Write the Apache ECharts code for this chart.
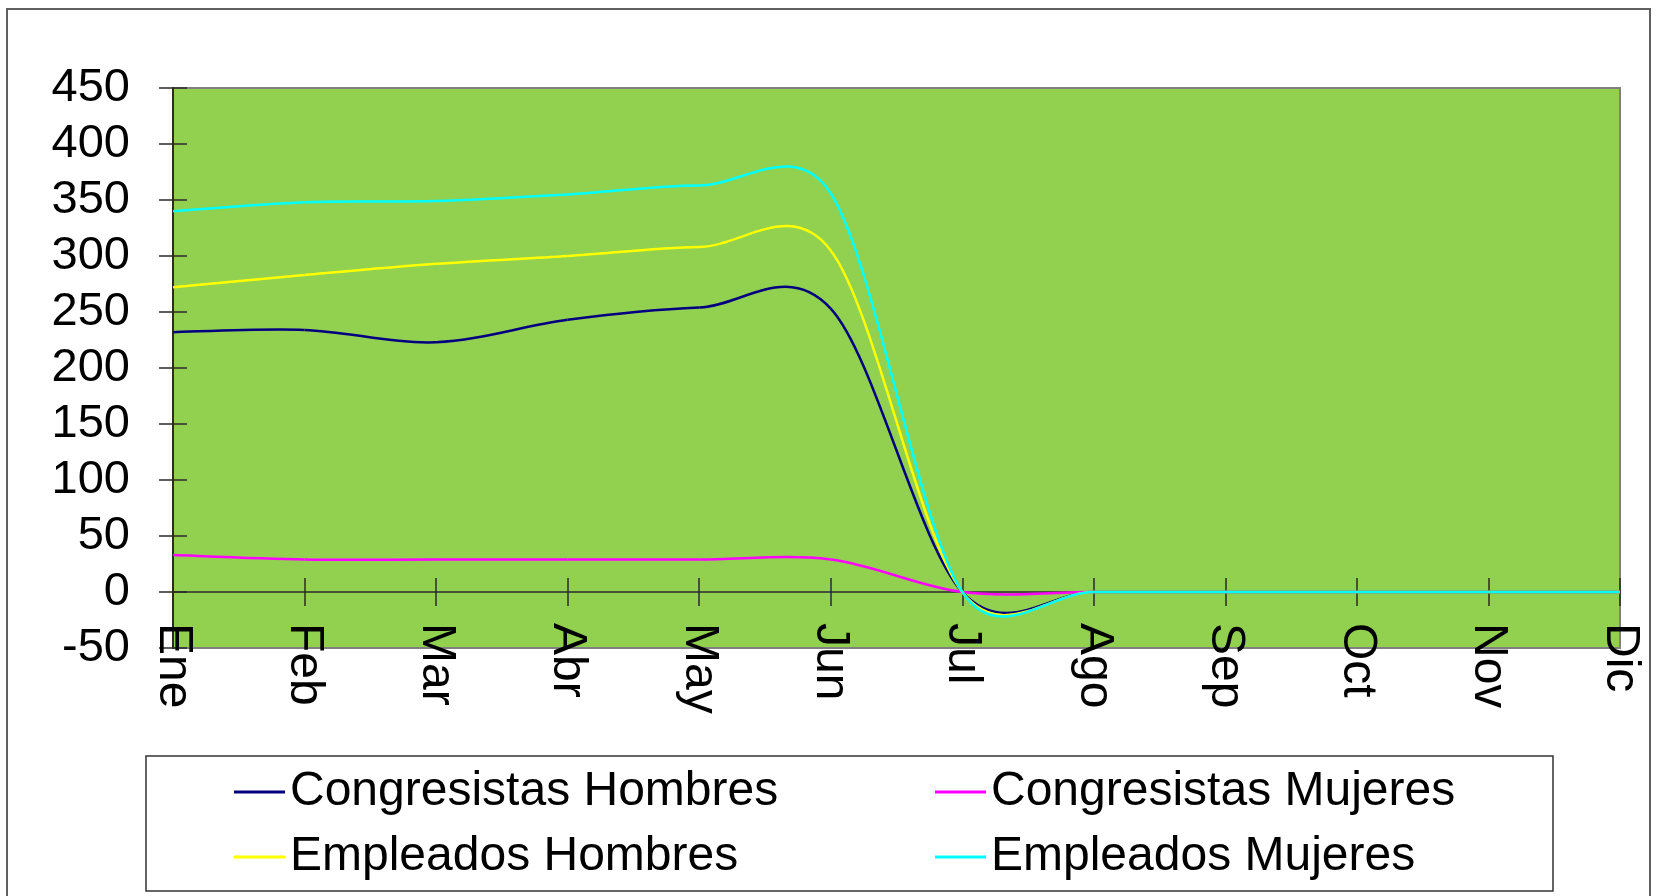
<!DOCTYPE html>
<html>
<head>
<meta charset="utf-8">
<title>Congresistas y Empleados</title>
<script src="https://cdn.jsdelivr.net/npm/echarts@6/dist/echarts.min.js"></script>
<style>
  html, body { margin: 0; padding: 0; background: #fff; }
  #chart { width: 1662px; height: 896px; }
</style>
</head>
<body>
<div id="chart"></div>
<script>
  // datos
  var meses = ['Ene', 'Feb', 'Mar', 'Abr', 'May', 'Jun', 'Jul', 'Ago', 'Sep', 'Oct', 'Nov', 'Dic']
  var congresistasHombres = [232, 234, 223, 243, 254, 253, 0, 0, 0, 0, 0, 0]
  var congresistasMujeres = [33, 29, 29, 29, 29, 29, 0, 0, 0, 0, 0, 0]
  var empleadosHombres = [272, 283, 293, 300, 308, 305, 0, 0, 0, 0, 0, 0]
  var empleadosMujeres = [340, 348, 349, 355, 363, 356, 0, 0, 0, 0, 0, 0]
  var yTicks = [-50, 0, 50, 100, 150, 200, 250, 300, 350, 400, 450]

  var FONT = '"Liberation Sans", Arial, sans-serif'

  function dist (a, b) {
    return Math.sqrt((a[0] - b[0]) * (a[0] - b[0]) + (a[1] - b[1]) * (a[1] - b[1]))
  }

  // linea suavizada tipo Excel (bezier con tension 1/6, limitada a medio segmento)
  function curvaSuave (valores, color) {
    return function (params, api) {
      var i = params.dataIndex
      var n = valores.length
      if (i >= n - 1) return null
      var pt = function (k) {
        k = Math.max(0, Math.min(n - 1, k))
        return api.coord([k, valores[k]])
      }
      var p0 = pt(i - 1), p1 = pt(i), p2 = pt(i + 1), p3 = pt(i + 2)
      var d02 = dist(p0, p2), d12 = dist(p1, p2), d13 = dist(p1, p3)
      var f0 = (d02 / 6 < d12 / 2) ? 1 / 6 : d12 / (2 * d02)
      var f1 = (d13 / 6 < d12 / 2) ? 1 / 6 : d12 / (2 * d13)
      if (!isFinite(f0)) f0 = 1 / 6
      if (!isFinite(f1)) f1 = 1 / 6
      return {
        type: 'bezierCurve',
        shape: {
          x1: p1[0], y1: p1[1],
          x2: p2[0], y2: p2[1],
          cpx1: p1[0] + f0 * (p2[0] - p0[0]),
          cpy1: p1[1] + f0 * (p2[1] - p0[1]),
          cpx2: p2[0] - f1 * (p3[0] - p1[0]),
          cpy2: p2[1] - f1 * (p3[1] - p1[1])
        },
        style: { stroke: color, lineWidth: 2.5, fill: null }
      }
    }
  }

  function serie (nombre, valores, color) {
    return {
      name: nombre,
      type: 'custom',
      xAxisIndex: 0,
      yAxisIndex: 0,
      itemStyle: { color: color },
      encode: { x: 0, y: 1 },
      data: valores.map(function (v, i) { return [i, v] }),
      renderItem: curvaSuave(valores, color)
    }
  }

  var legendaBase = {
    orient: 'vertical',
    top: 762,
    itemWidth: 51,
    itemHeight: 3,
    itemGap: 15,
    selectedMode: false,
    textStyle: { fontFamily: FONT, fontSize: 48, color: '#000', lineHeight: 50 }
  }

  var option = {
    animation: false,
    backgroundColor: '#fff',
    textStyle: { fontFamily: FONT },
    grid: {
      left: 173,
      right: 42,
      top: 88,
      bottom: 248,
      show: true,
      backgroundColor: '#92D050',
      borderColor: '#808080',
      borderWidth: 2
    },
    graphic: [
      {
        type: 'rect',
        shape: { x: 7, y: 9, width: 1643, height: 900 },
        style: { fill: null, stroke: '#606060', lineWidth: 2 },
        z: -10
      },
      {
        type: 'rect',
        shape: { x: 146, y: 756, width: 1407, height: 135 },
        style: { fill: null, stroke: '#333', lineWidth: 1.5 }
      }
    ],
    legend: [
      Object.assign({}, legendaBase, {
        left: 229,
        data: [
          { name: 'Congresistas Hombres', icon: 'rect' },
          { name: 'Empleados Hombres', icon: 'rect' }
        ]
      }),
      Object.assign({}, legendaBase, {
        left: 930,
        data: [
          { name: 'Congresistas Mujeres', icon: 'rect' },
          { name: 'Empleados Mujeres', icon: 'rect' }
        ]
      })
    ],
    xAxis: [
      {
        type: 'category',
        data: meses,
        boundaryGap: false,
        position: 'bottom',
        axisLine: { onZero: true, onZeroAxisIndex: 0, lineStyle: { color: '#2a2a2a', width: 1.5 } },
        axisTick: { show: true, interval: 0, length: 14, lineStyle: { color: '#2a2a2a', width: 1.5 } },
        axisLabel: {
          interval: 0,
          rotate: -90,
          margin: -25,
          color: '#000',
          fontSize: 48,
          fontFamily: FONT
        },
        splitLine: { show: false }
      },
      {
        type: 'category',
        data: meses,
        boundaryGap: false,
        position: 'bottom',
        axisLine: { show: false, onZero: true, onZeroAxisIndex: 1 },
        axisTick: { show: true, inside: true, interval: 0, length: 14, lineStyle: { color: '#2a2a2a', width: 1.5 } },
        axisLabel: { show: false },
        splitLine: { show: false }
      }
    ],
    yAxis: [
      {
        type: 'value',
        min: yTicks[0],
        max: yTicks[yTicks.length - 1],
        interval: 50,
        axisLine: { show: true, lineStyle: { color: '#2a2a2a', width: 2 } },
        axisTick: { show: true, length: 14, lineStyle: { color: '#2a2a2a', width: 1.5 } },
        axisLabel: { margin: 43, color: '#000', fontSize: 47, fontFamily: FONT },
        splitLine: { show: false }
      },
      {
        type: 'value',
        position: 'left',
        min: yTicks[0],
        max: yTicks[yTicks.length - 1],
        interval: 50,
        axisLine: { show: false },
        axisTick: { show: true, inside: true, length: 14, lineStyle: { color: '#2a2a2a', width: 1.5 } },
        axisLabel: { show: false },
        splitLine: { show: false }
      }
    ],
    series: [
      serie('Congresistas Hombres', congresistasHombres, '#000080'),
      serie('Congresistas Mujeres', congresistasMujeres, '#FF00FF'),
      serie('Empleados Hombres', empleadosHombres, '#FFFF00'),
      serie('Empleados Mujeres', empleadosMujeres, '#00FFFF')
    ]
  }

  var chart = echarts.init(document.getElementById('chart'))
  chart.setOption(option)
  window.addEventListener('resize', function () {
    chart.resize()
  })
</script>
</body>
</html>
